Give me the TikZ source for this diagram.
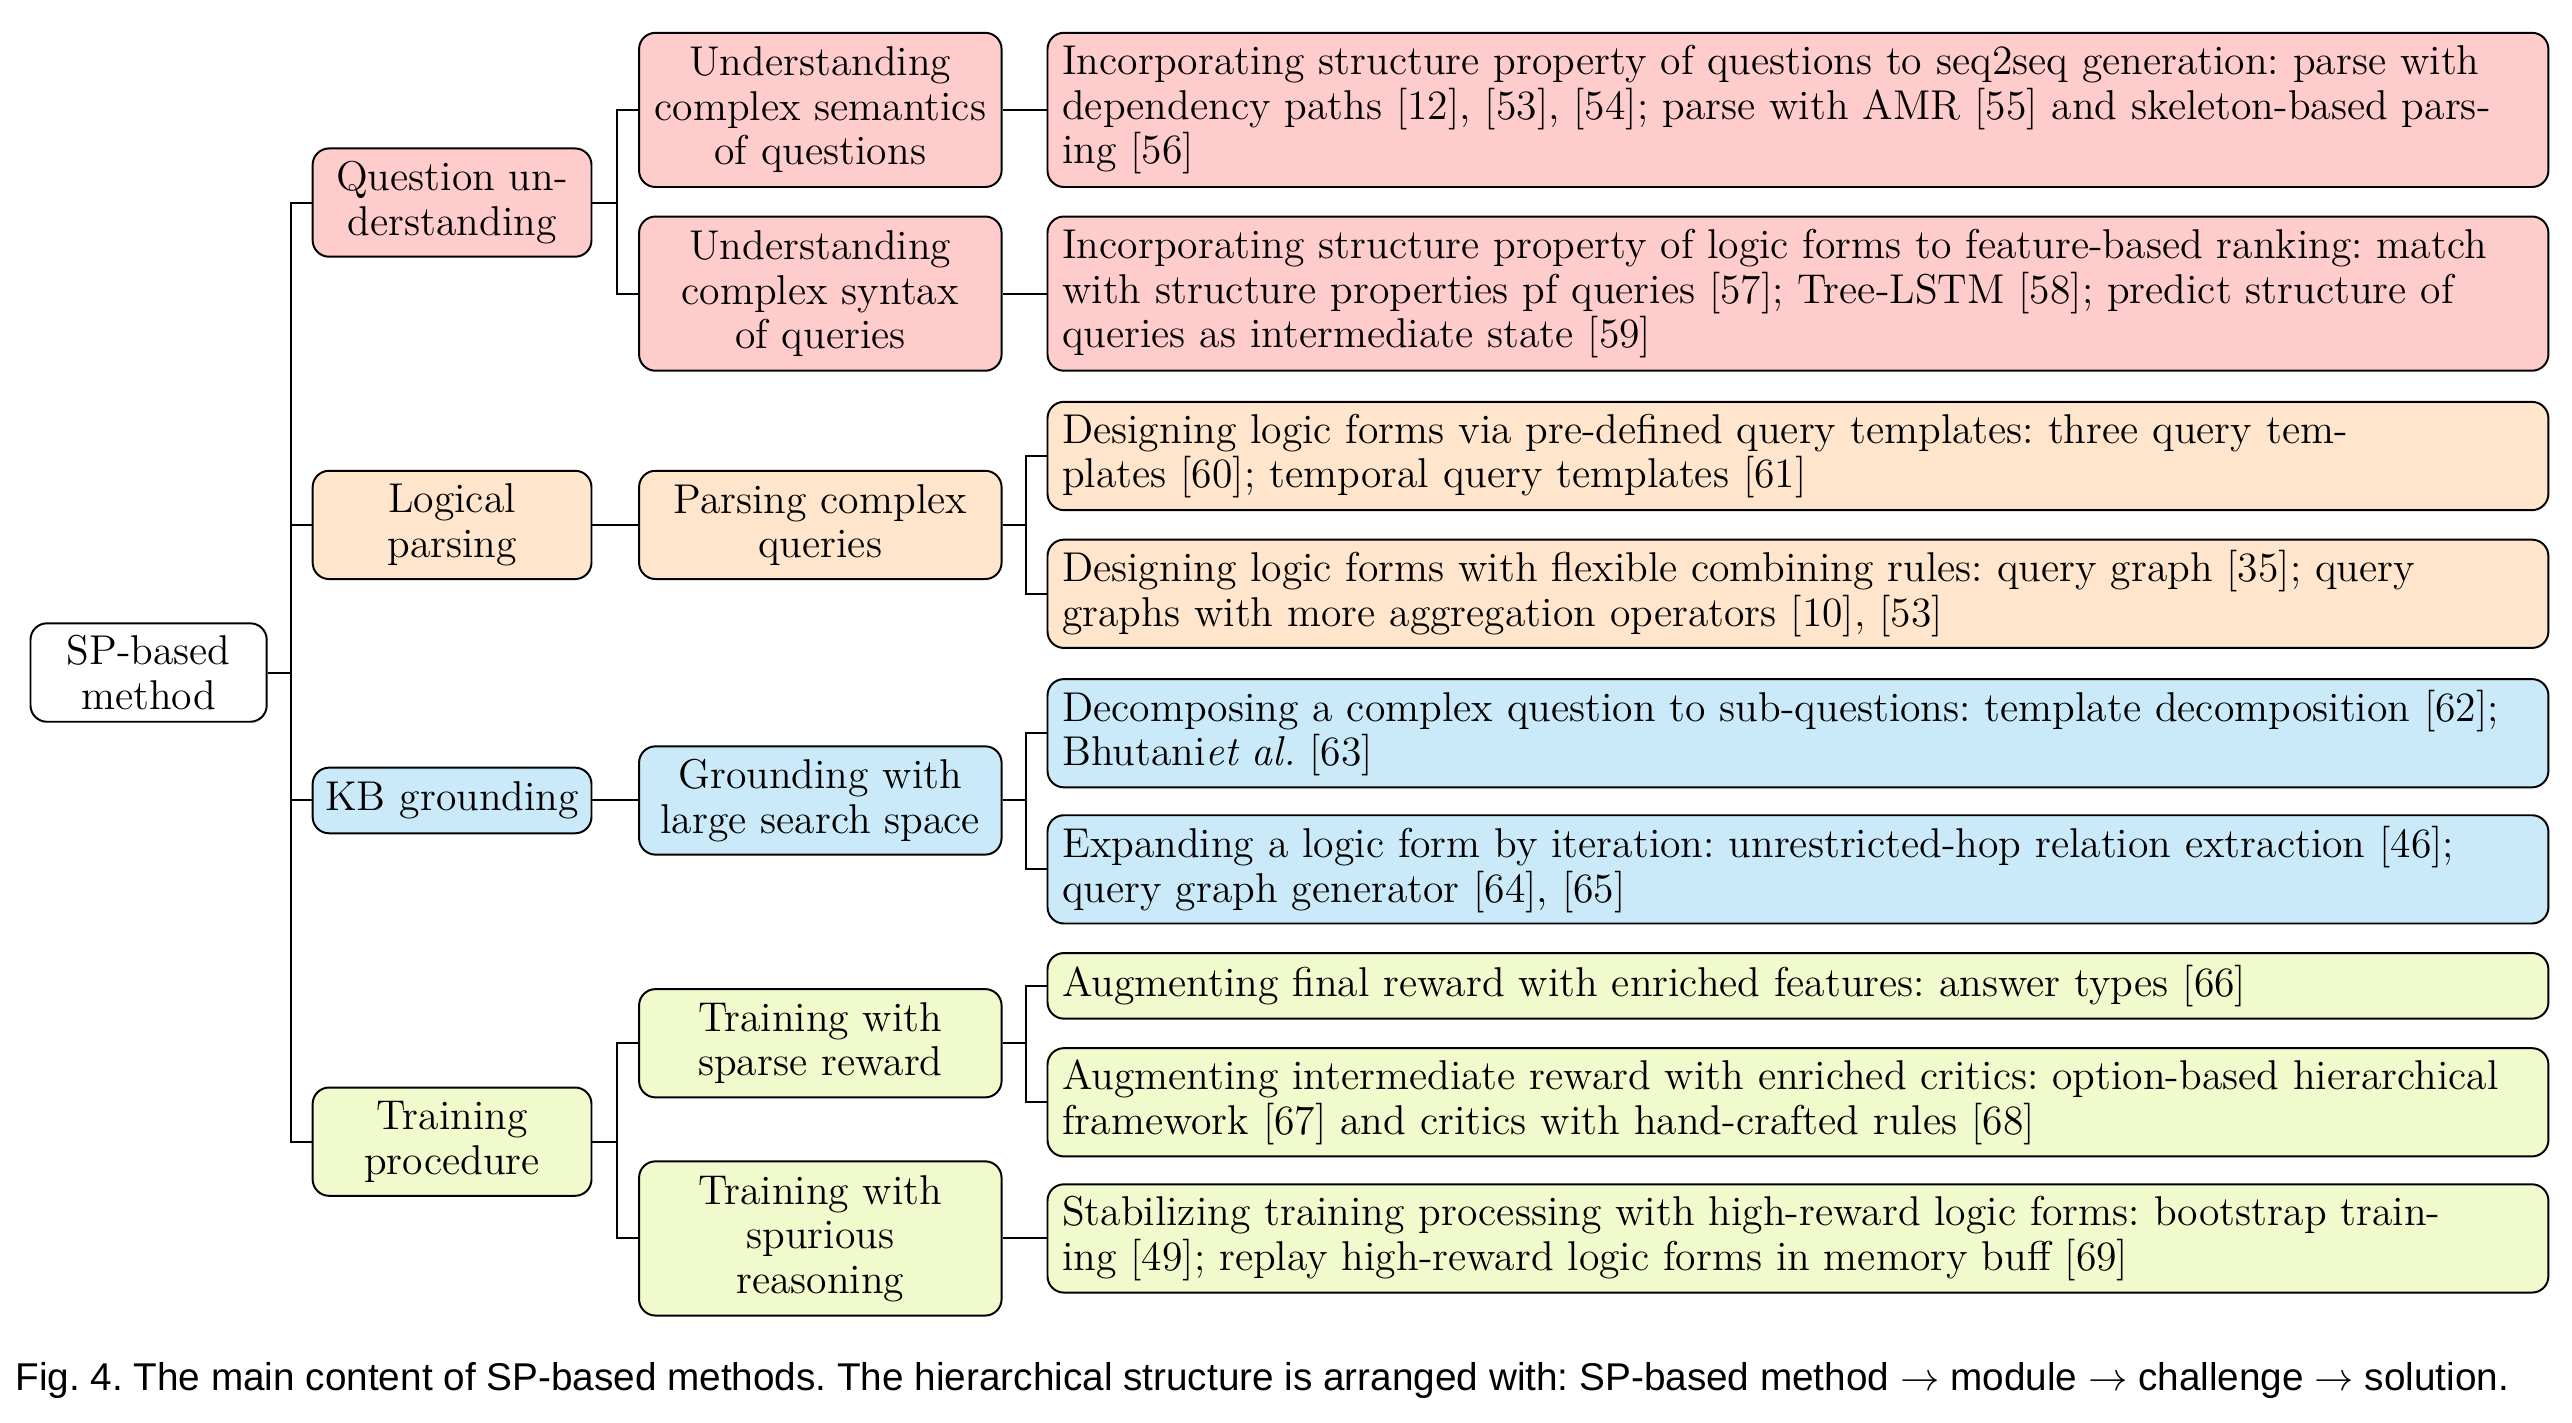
\documentclass[tikz,border=0pt]{standalone}
\usepackage{fontspec}
\newfontfamily\capfont{Liberation Sans}
\frenchspacing
\definecolor{cpink}{RGB}{255,204,204}
\definecolor{cpeach}{RGB}{255,229,204}
\definecolor{cblue}{RGB}{202,234,249}
\definecolor{clime}{RGB}{240,250,204}
\begin{document}
\frenchspacing
\begin{tikzpicture}[x=0.5pt,y=-0.5pt,
  box/.style={draw, line width=0.6pt, rounded corners=5pt, inner ysep=2pt, font=\fontsize{12.7}{13.6}\selectfont, anchor=west},
  rootbox/.style={box, fill=white, inner xsep=2pt, minimum width=72pt, text width=68pt, align=center},
  lone/.style={box, inner xsep=2pt, minimum width=85pt, text width=81pt, align=center},
  ltwo/.style={box, inner xsep=2pt, minimum width=110.5pt, text width=106.5pt, align=center},
  lthree/.style={box, inner xsep=4.5pt, minimum width=457.5pt, text width=448.5pt, align=left},
  hone/.style={minimum height=20pt}, htwo/.style={minimum height=33pt}, hthree/.style={minimum height=47pt},
  link/.style={line width=0.6pt}]
\useasboundingbox (0,0) rectangle (1568,867);
% root
\node[rootbox, minimum height=30pt] (root) at (18,410) {SP-based\\method};
% level 1
\node[lone, htwo, fill=cpink] (q) at (190,123.5) {Question un-\\derstanding};
\node[lone, htwo, fill=cpeach] (lp) at (190,320) {Logical\\parsing};
\node[lone, hone, fill=cblue] (kb) at (190,488) {KB grounding};
\node[lone, htwo, fill=clime] (tr) at (190,696) {Training\\procedure};
% level 2
\node[ltwo, hthree, fill=cpink] (s1) at (389,67) {Understanding\\complex semantics\\of questions};
\node[ltwo, hthree, fill=cpink] (s2) at (389,179) {Understanding\\complex syntax\\of queries};
\node[ltwo, htwo, fill=cpeach] (p) at (389,320) {Parsing complex\\queries};
\node[ltwo, htwo, fill=cblue] (g) at (389,488) {Grounding with\\large search space};
\node[ltwo, htwo, fill=clime] (t1) at (389,636) {Training with\\sparse reward};
\node[ltwo, hthree, fill=clime] (t2) at (389,755) {Training with\\spurious\\reasoning};
% level 3
\node[lthree, hthree, fill=cpink] (a1) at (638,67) {Incorporating structure property of questions to seq2seq generation: parse with\\dependency paths [12], [53], [54]; parse with AMR [55] and skeleton-based pars-\\ing [56]};
\node[lthree, hthree, fill=cpink] (a2) at (638,179) {Incorporating structure property of logic forms to feature-based ranking: match\\with structure properties pf queries [57]; Tree-LSTM [58]; predict structure of\\queries as intermediate state [59]};
\node[lthree, htwo, fill=cpeach] (b1) at (638,278) {Designing logic forms via pre-defined query templates: three query tem-\\plates [60]; temporal query templates [61]};
\node[lthree, htwo, fill=cpeach] (b2) at (638,362) {Designing logic forms with flexible combining rules: query graph [35]; query\\graphs with more aggregation operators [10], [53]};
\node[lthree, htwo, fill=cblue] (c1) at (638,447) {Decomposing a complex question to sub-questions: template decomposition [62];\\Bhutani\textit{et al.} [63]};
\node[lthree, htwo, fill=cblue] (c2) at (638,530) {Expanding a logic form by iteration: unrestricted-hop relation extraction [46];\\query graph generator [64], [65]};
\node[lthree, hone, fill=clime] (d1) at (638,601) {Augmenting final reward with enriched features: answer types [66]};
\node[lthree, htwo, fill=clime] (d2) at (638,672) {Augmenting intermediate reward with enriched critics: option-based hierarchical\\framework [67] and critics with hand-crafted rules [68]};
\node[lthree, htwo, fill=clime] (d3) at (638,755) {Stabilizing training processing with high-reward logic forms: bootstrap train-\\ing [49]; replay high-reward logic forms in memory buff [69]};
% connectors root -> level 1
\foreach \c in {q,lp,kb,tr} \draw[link] (root.east) -- ++(14,0) |- (\c.west);
% level 1 -> level 2
\draw[link] (q.east) -- ++(15,0) |- (s1.west);
\draw[link] (q.east) -- ++(15,0) |- (s2.west);
\draw[link] (lp.east) -- (p.west);
\draw[link] (kb.east) -- (g.west);
\draw[link] (tr.east) -- ++(15,0) |- (t1.west);
\draw[link] (tr.east) -- ++(15,0) |- (t2.west);
% level 2 -> level 3
\draw[link] (s1.east) -- (a1.west);
\draw[link] (s2.east) -- (a2.west);
\draw[link] (p.east) -- ++(14,0) |- (b1.west);
\draw[link] (p.east) -- ++(14,0) |- (b2.west);
\draw[link] (g.east) -- ++(14,0) |- (c1.west);
\draw[link] (g.east) -- ++(14,0) |- (c2.west);
\draw[link] (t1.east) -- ++(14,0) |- (d1.west);
\draw[link] (t1.east) -- ++(14,0) |- (d2.west);
\draw[link] (t2.east) -- (d3.west);
% caption
\node[anchor=base west, inner sep=0pt, font=\capfont\fontsize{11.8}{14}\selectfont] (cap) at (9,848) {Fig. 4. The main content of SP-based methods. The hierarchical structure is arranged with: SP-based method $\rightarrow$ module $\rightarrow$ challenge $\rightarrow$ solution.};
\end{tikzpicture}
\end{document}
